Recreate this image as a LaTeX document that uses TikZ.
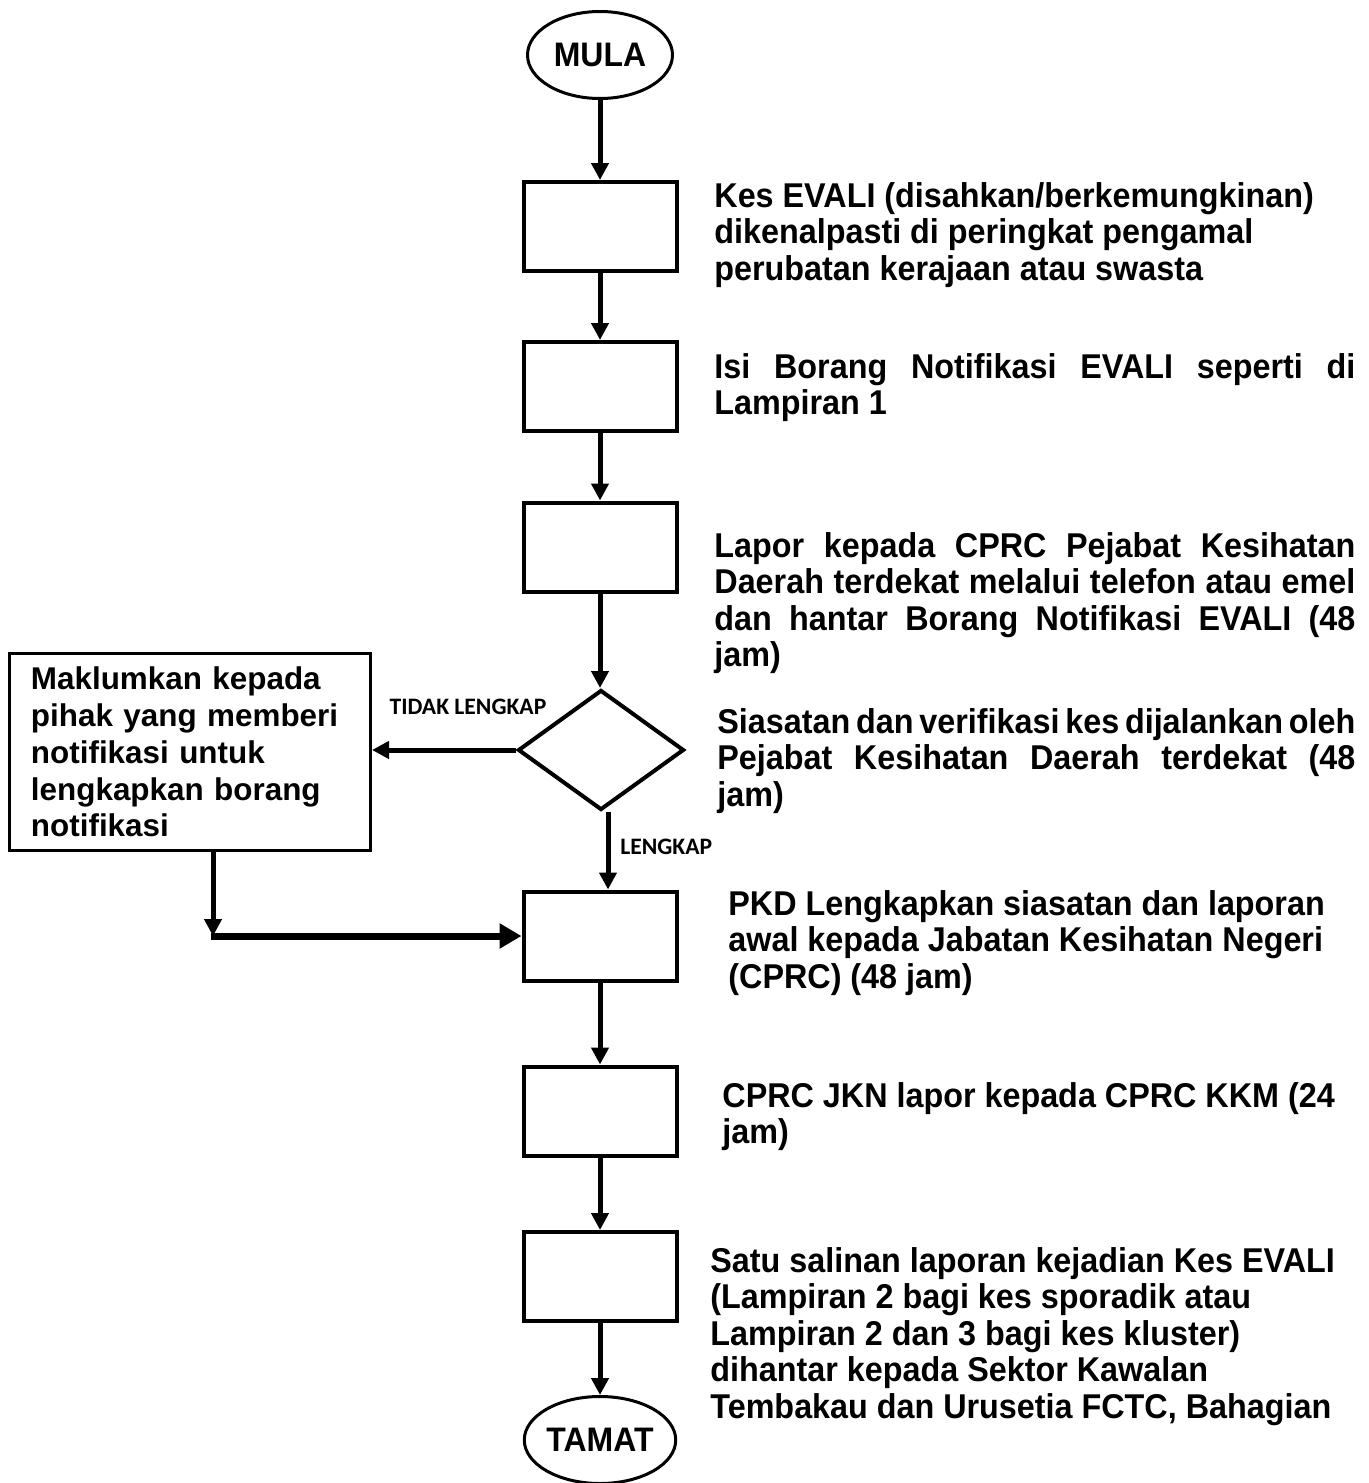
\documentclass[tikz,border=0pt]{standalone}
\usepackage{fontspec}
\setmainfont{Liberation Sans}
\newfontfamily\narrowarial[FakeStretch=0.94]{Liberation Sans}
\newfontfamily\calib{Carlito}
\usetikzlibrary{shapes.geometric,arrows.meta,calc}
\newcommand{\jline}[1]{\makebox[320.5pt][s]{#1}}
\begin{document}
\begin{tikzpicture}[x=0.5pt,y=-0.5pt,
  every node/.style={font=\bfseries\fontsize{16pt}{18.4pt}\selectfont},
  stepbox/.style={draw,line width=2pt,minimum width=76.5pt,minimum height=44.5pt,inner sep=0},
  term/.style={draw,ellipse,line width=1.5pt,minimum width=72.5pt,minimum height=43.5pt,inner sep=0,
    font=\narrowarial\bfseries\fontsize{17pt}{18.4pt}\selectfont},
  desc/.style={anchor=base west,text width=320.5pt,inner sep=0,align=left,
    font=\narrowarial\bfseries\fontsize{17.2pt}{18.3pt}\selectfont,
    execute at begin node={\spaceskip=0.26em plus 0.6em minus 0.1em\relax}},
  arr/.style={line width=2.5pt,-{Triangle[length=8.5pt,width=8.5pt]}},
  bigarr/.style={line width=3.5pt,-{Triangle[length=11pt,width=12pt]}},
  lbl/.style={font=\calib\bfseries\fontsize{11.8pt}{14pt}\selectfont,inner sep=0}
]
\useasboundingbox (0,0) rectangle (1369,1483);
\fill[white] (0,0) rectangle (1369,1483);

% terminals
\node[term] (mula) at (600,55) {MULA};
\node[term] (tamat) at (600,1440) {TAMAT};

% process boxes
\node[stepbox] (b1) at (600,226.5) {};
\node[stepbox] (b2) at (600,386.5) {};
\node[stepbox] (b3) at (600,547) {};
\node[diamond,draw,line width=2pt,minimum width=83pt,minimum height=60pt,inner sep=0] (dia) at (601,750) {};
\node[stepbox] (b5) at (600,936) {};
\node[stepbox] (b6) at (600,1111) {};
\node[stepbox] (b7) at (600,1276.5) {};

% left box
\node[draw,line width=1.5pt,text width=159pt,inner xsep=10.75pt,inner ysep=0pt,
      minimum height=98.5pt,align=left,
      font=\bfseries\fontsize{15.7pt}{18.4pt}\selectfont] (left) at (190,752)
  {\raisebox{-4.5pt}{\parbox{159pt}{Maklumkan kepada\\pihak yang memberi\\notifikasi untuk\\lengkapkan borang\\notifikasi}}};

% descriptions
\node[desc] (t1) at (714,207) {Kes EVALI (disahkan/berkemungkinan)\\dikenalpasti di peringkat pengamal\\perubatan kerajaan atau swasta};
\node[desc] (t2) at (714,378) {\jline{Isi Borang Notifikasi EVALI seperti di}\\Lampiran 1};
\node[desc] (t3) at (714,557) {\jline{Lapor kepada CPRC Pejabat Kesihatan}\\\jline{Daerah terdekat melalui telefon atau emel}\\\jline{dan hantar Borang Notifikasi EVALI (48}\\jam)};
\node[desc,text width=319pt] (t4) at (717,733) {\makebox[319pt][s]{Siasatan dan verifikasi kes dijalankan oleh}\\\makebox[319pt][s]{Pejabat Kesihatan Daerah terdekat (48}\\jam)};
\node[desc] (t5) at (728,915) {PKD Lengkapkan siasatan dan laporan\\awal kepada Jabatan Kesihatan Negeri\\(CPRC) (48 jam)};
\node[desc] (t6) at (722,1107) {CPRC JKN lapor kepada CPRC KKM (24\\jam)};
\node[desc] (t7) at (710,1272) {Satu salinan laporan kejadian Kes EVALI\\(Lampiran 2 bagi kes sporadik atau\\Lampiran 2 dan 3 bagi kes kluster)\\dihantar kepada Sektor Kawalan\\Tembakau dan Urusetia FCTC, Bahagian};

% labels
\node[lbl] (ltidak) at (468,707) {TIDAK LENGKAP};
\node[lbl,anchor=west] (llengkap) at (620,847) {LENGKAP};

% connectors
\draw[arr] (mula.south) -- (b1.north);
\draw[arr] (b1.south) -- (b2.north);
\draw[arr] (b2.south) -- (b3.north);
\draw[arr] (b3.south) -- (b3.south |- dia.north);
\draw[arr] (dia.west) -- (left.east |- dia.west);
\coordinate (dbot) at ($(dia.south)+(7,0)$);
\draw[arr] (dbot) -- (dbot |- b5.north);
\coordinate (corner) at (213,936);
\draw[arr] (left.south -| corner) -- (corner);
\draw[bigarr] ([xshift=-1pt]corner) -- (b5.west);
\draw[arr] (b5.south) -- (b6.north);
\draw[arr] (b6.south) -- (b7.north);
\draw[arr] (b7.south) -- (tamat.north);
\end{tikzpicture}
\end{document}
